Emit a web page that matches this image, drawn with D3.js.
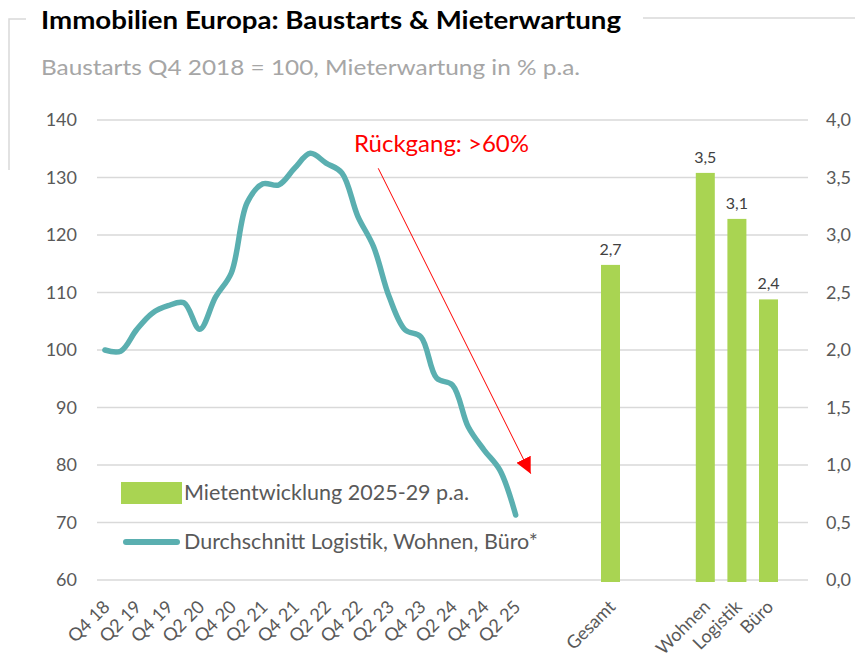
<!DOCTYPE html>
<html>
<head>
<meta charset="utf-8">
<script src="https://cdn.jsdelivr.net/npm/d3@7"></script>
<style>
  body { margin: 0; background: #fff; }
  text { font-family: Lato, "Open Sans", sans-serif; }
</style>
</head>
<body>
<svg id="chart" width="855" height="658"></svg>
<script>
// quarters for the construction starts line (Q4 2018 = 100)
const quarters = ["Q4 18", "Q1 19", "Q2 19", "Q3 19", "Q4 19", "Q1 20", "Q2 20", "Q3 20", "Q4 20",
  "Q1 21", "Q2 21", "Q3 21", "Q4 21", "Q1 22", "Q2 22", "Q3 22", "Q4 22", "Q1 23", "Q2 23",
  "Q3 23", "Q4 23", "Q1 24", "Q2 24", "Q3 24", "Q4 24", "Q1 25", "Q2 25"];
const baustarts = [100, 99.8, 103.5, 106.4, 107.7, 108.2, 103.6, 109.2, 113.4,
  125.6, 128.9, 128.7, 131.6, 134.2, 132.5, 130.8, 123.3, 118, 109.2,
  103.5, 102.3, 95.1, 93.9, 86.6, 82.6, 79.1, 71.3];

// rent expectation bars, sharing the category axis (empty slots as spacers)
const barSlots = ["", "", "", "", "", "Gesamt", "", "", "", "", "", "Wohnen", "", "Logistik", "", "Büro", "", ""];
const barCats = ["Gesamt", "Wohnen", "Logistik", "Büro"];
const barValues = [2.74, 3.54, 3.14, 2.44];

const leftTicks = [60, 70, 80, 90, 100, 110, 120, 130, 140];
const rightTicks = [0, 0.5, 1, 1.5, 2, 2.5, 3, 3.5, 4];

// annotation arrow, in (slot index, left-axis value)
const arrowFrom = [17.3, 131.6];
const arrowTo = [26.95, 78.5];

const svg = d3.select("#chart");
const margin = { left: 97, right: 808, top: 120, bottom: 580 };
const slots = quarters.concat(barSlots);

const x = d3.scaleLinear().domain([-0.5, slots.length - 0.5]).range([margin.left, margin.right]);
const y = d3.scaleLinear().domain([60, 140]).range([margin.bottom, margin.top]);
const y2 = d3.scaleLinear().domain([0, 4]).range([margin.bottom, margin.top]);
const de = d3.formatLocale({ decimal: ",", thousands: ".", grouping: [3], currency: ["", " €"] });
const f1 = de.format(".1f");

// frame lines round the title
const frame = svg.append("g").attr("stroke", "#d9d9d9").attr("stroke-width", 1.5).attr("fill", "none");
frame.append("path").attr("d", "M26,19 H9 V170");
frame.append("path").attr("d", "M643,18 H855");

svg.append("text").attr("x", 41).attr("y", 29)
  .attr("font-size", 24).attr("font-weight", "bold").attr("fill", "#000")
  .attr("textLength", 580).attr("lengthAdjust", "spacingAndGlyphs")
  .text("Immobilien Europa: Baustarts & Mieterwartung");
svg.append("text").attr("x", 41).attr("y", 75)
  .attr("font-size", 21).attr("fill", "#a6a6a6")
  .attr("textLength", 539).attr("lengthAdjust", "spacingAndGlyphs")
  .text("Baustarts Q4 2018 = 100, Mieterwartung in % p.a.");

// gridlines
svg.append("g").selectAll("line").data(leftTicks).join("line")
  .attr("x1", margin.left).attr("x2", margin.right)
  .attr("y1", d => y(d)).attr("y2", d => y(d))
  .attr("stroke", "#d9d9d9").attr("stroke-width", 1.5);

// left axis
const gl = svg.append("g").attr("transform", `translate(${margin.left},0)`)
  .call(d3.axisLeft(y).tickValues(leftTicks).tickSize(0).tickPadding(20));
gl.select(".domain").remove();
gl.selectAll("text").attr("font-size", 18).attr("fill", "#595959").style("font-family", "Lato");

// right axis
const gr = svg.append("g").attr("transform", `translate(${margin.right},0)`)
  .call(d3.axisRight(y2).tickValues(rightTicks).tickFormat(f1).tickSize(0).tickPadding(18));
gr.select(".domain").remove();
gr.selectAll("text").attr("font-size", 18).attr("fill", "#595959").style("font-family", "Lato");

// bars
const barData = barCats.map((c, i) => ({ cat: c, v: barValues[i], idx: slots.indexOf(c) }));
const bw = 19;
svg.append("g").selectAll("rect").data(barData).join("rect")
  .attr("x", d => x(d.idx) - bw / 2).attr("width", bw)
  .attr("y", d => y2(d.v)).attr("height", d => y2(0) - y2(d.v) + 2)
  .attr("fill", "#a9d452");
svg.append("g").selectAll("text").data(barData).join("text")
  .attr("x", d => x(d.idx)).attr("y", d => y2(d.v) - 10)
  .attr("text-anchor", "middle").attr("font-size", 16).attr("fill", "#404040")
  .text(d => f1(d.v));

// line
const line = d3.line().x((d, i) => x(i)).y(d => y(d)).curve(d3.curveCatmullRom);
svg.append("path").datum(baustarts)
  .attr("d", line).attr("fill", "none")
  .attr("stroke", "#5aafb0").attr("stroke-width", 5.5)
  .attr("stroke-linecap", "round").attr("stroke-linejoin", "round");

// category labels
const catLabels = slots.map((s, i) => ({ s, i }))
  .filter(d => d.s !== "" && (d.i >= quarters.length || d.i % 2 === 0));
svg.append("g").selectAll("text").data(catLabels).join("text")
  .attr("transform", d => `translate(${x(d.i) + 6},${margin.bottom + 28}) rotate(-45)`)
  .attr("text-anchor", "end").attr("font-size", 18).attr("fill", "#595959")
  .text(d => d.s);

// annotation
const ax1 = x(arrowFrom[0]), ay1 = y(arrowFrom[1]);
const ax2 = x(arrowTo[0]), ay2 = y(arrowTo[1]);
svg.append("defs").append("marker").attr("id", "arr")
  .attr("viewBox", "0 0 10 10").attr("refX", 10).attr("refY", 5)
  .attr("markerWidth", 16).attr("markerHeight", 16).attr("markerUnits", "userSpaceOnUse")
  .attr("orient", "auto")
  .append("path").attr("d", "M0,0 L10,5 L0,10 Z").attr("fill", "#ff0000");
svg.append("line").attr("x1", ax1).attr("y1", ay1).attr("x2", ax2).attr("y2", ay2)
  .attr("stroke", "#ff0000").attr("stroke-width", 1).attr("marker-end", "url(#arr)");
svg.append("text").attr("x", 354).attr("y", 152)
  .attr("font-size", 24).attr("fill", "#ff0000").text("Rückgang: >60%");

// legend
const lg = svg.append("g");
lg.append("rect").attr("x", 121).attr("y", 482).attr("width", 61).attr("height", 22).attr("fill", "#a9d452");
lg.append("text").attr("x", 184).attr("y", 500).attr("font-size", 21.5).attr("fill", "#595959")
  .text("Mietentwicklung 2025-29 p.a.");
lg.append("line").attr("x1", 126).attr("x2", 177).attr("y1", 542).attr("y2", 542)
  .attr("stroke", "#5aafb0").attr("stroke-width", 6).attr("stroke-linecap", "round");
lg.append("text").attr("x", 184).attr("y", 549).attr("font-size", 21.5).attr("fill", "#595959")
  .text("Durchschnitt Logistik, Wohnen, Büro*");
</script>
</body>
</html>
